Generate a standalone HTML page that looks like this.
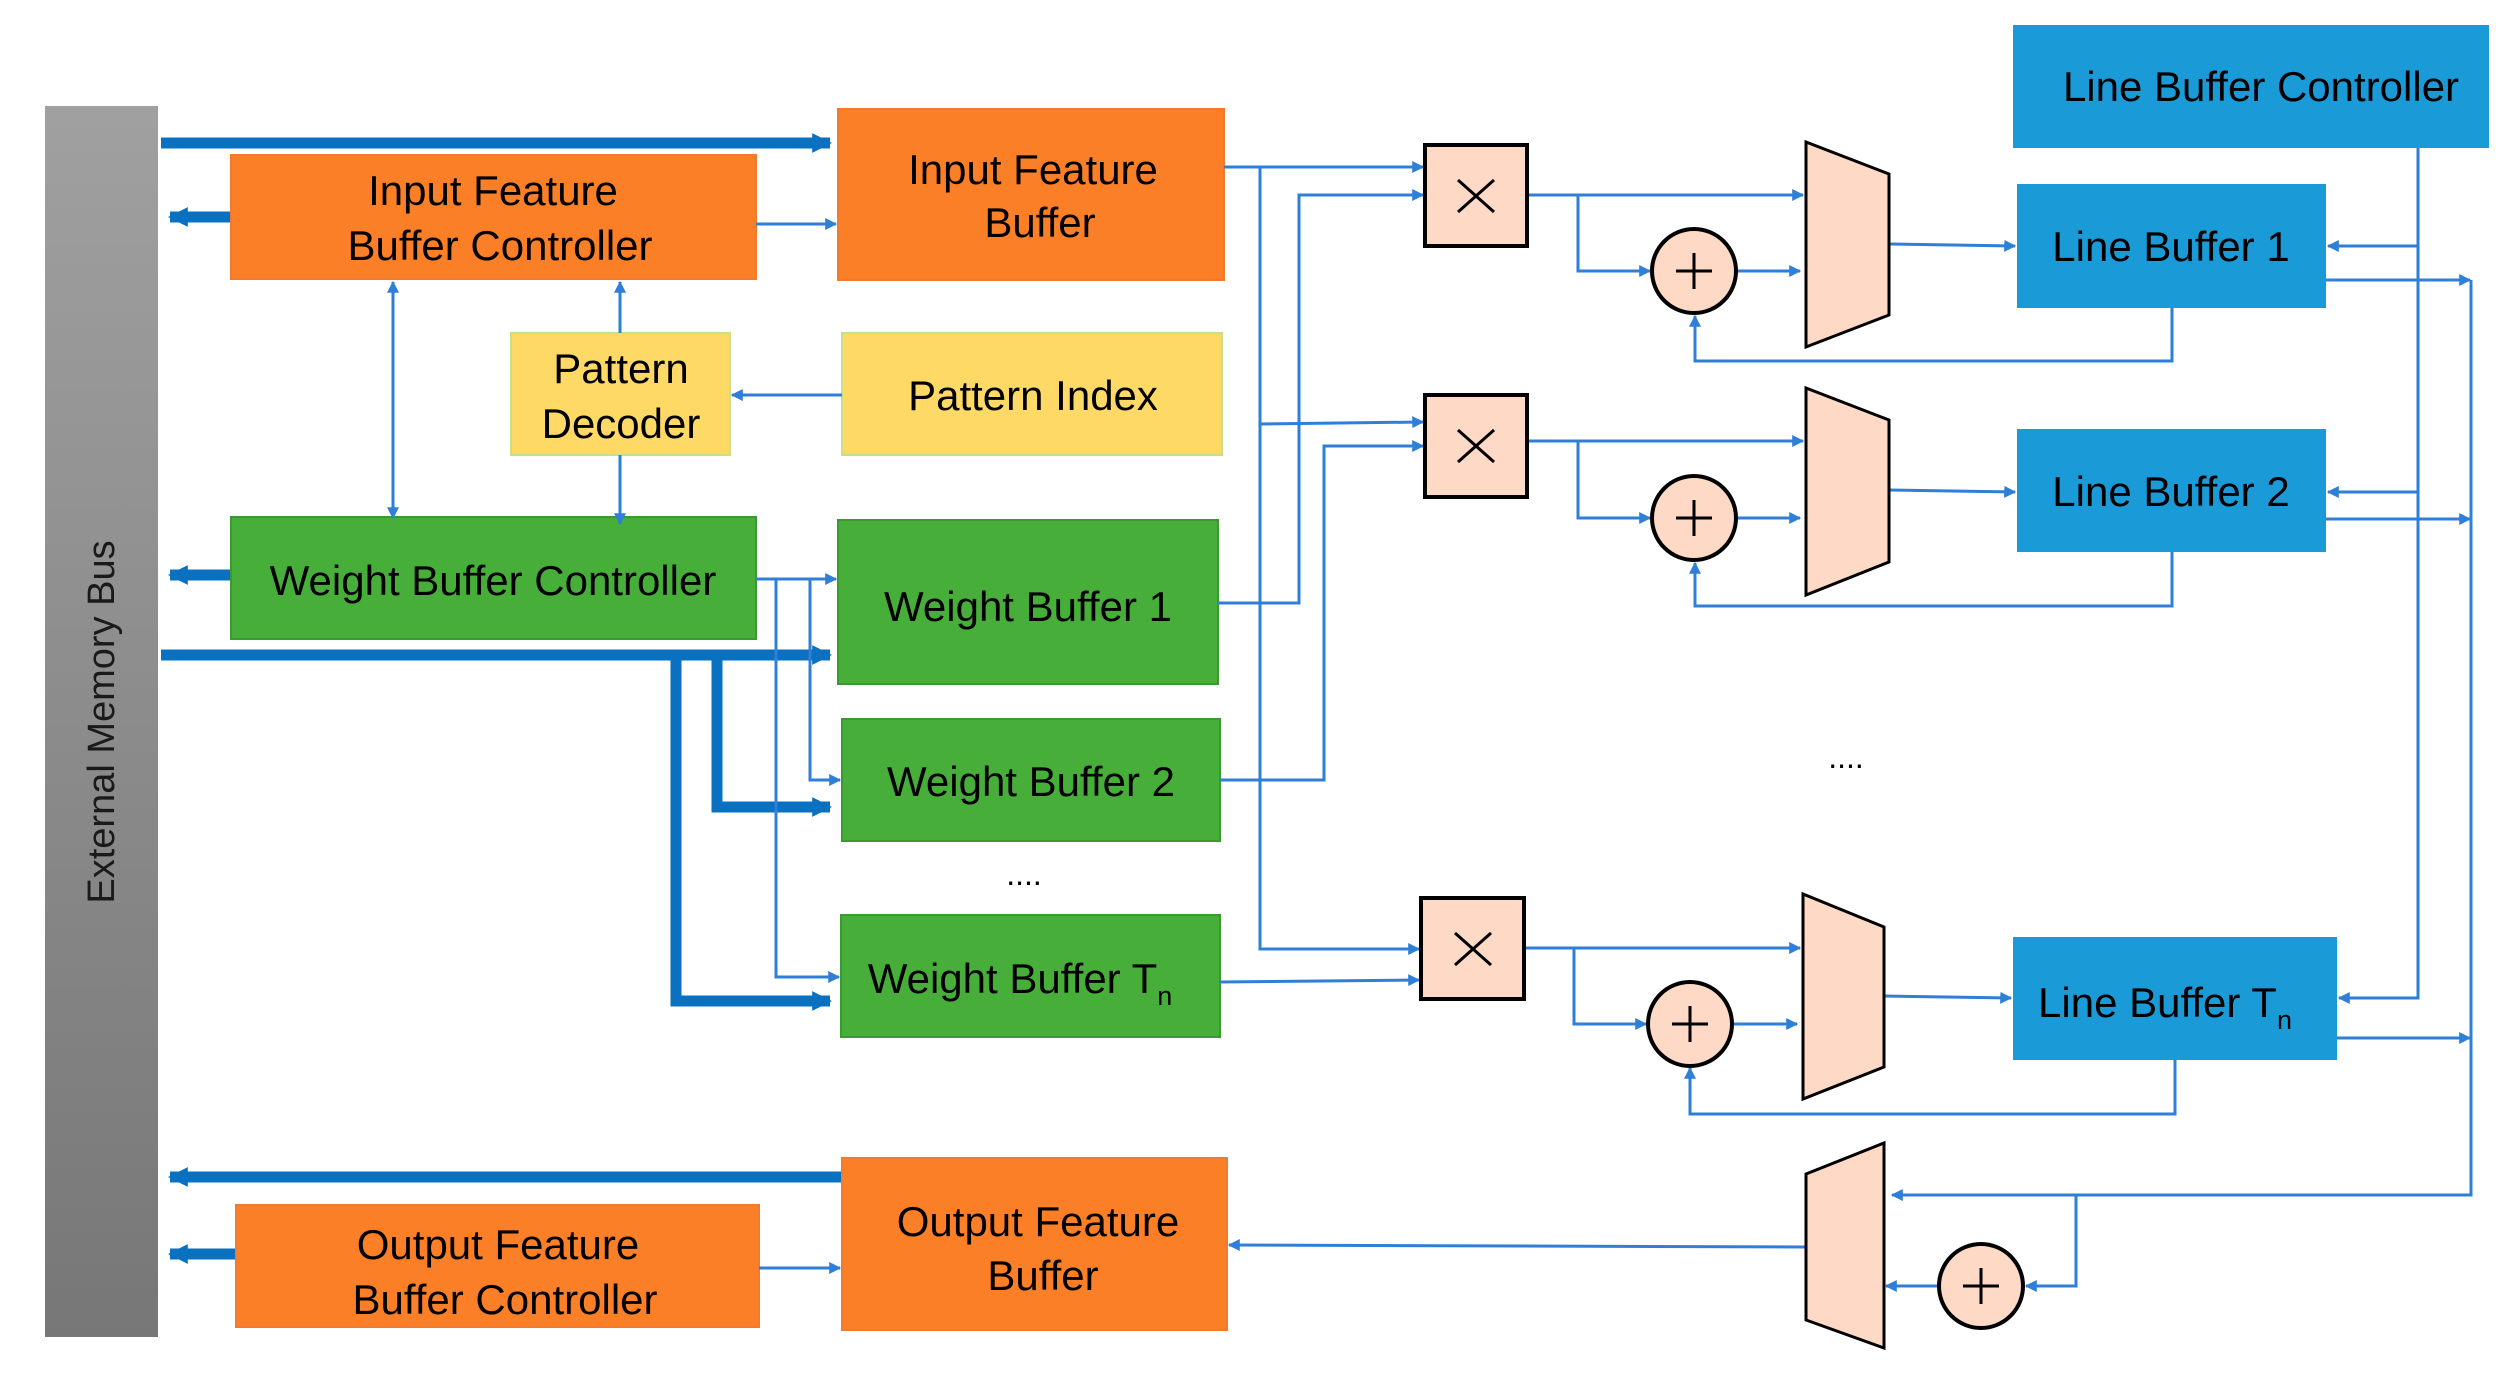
<!DOCTYPE html>
<html><head><meta charset="utf-8"><style>
html,body{margin:0;padding:0;background:#fff}
svg{display:block}
text{font-family:"Liberation Sans",Arial,sans-serif;fill:#000}
</style></head><body>
<svg width="2514" height="1377" viewBox="0 0 2514 1377" xmlns="http://www.w3.org/2000/svg">
<defs>
<linearGradient id="bus" x1="0" y1="0" x2="0" y2="1"><stop offset="0" stop-color="#a0a0a0"/><stop offset="1" stop-color="#777"/></linearGradient>
<marker id="a" viewBox="0 0 10 10" refX="9" refY="5" markerWidth="4" markerHeight="4" orient="auto-start-reverse" markerUnits="strokeWidth"><path d="M0,0L10,5L0,10z" fill="#2f7fd8"/></marker>
<marker id="t" viewBox="0 0 10 10" refX="9" refY="5" markerWidth="1.8" markerHeight="2.4" orient="auto" markerUnits="strokeWidth"><path d="M0,0L10,5L0,10z" fill="#0a70c0"/></marker>
</defs>
<rect x="45" y="106" width="113" height="1231" fill="url(#bus)"/>
<text transform="translate(114,722) rotate(-90)" font-size="38" text-anchor="middle" style="fill:#1a1a1a">External Memory Bus</text>

<g stroke="#0a70c0" stroke-width="11" fill="none">
<path d="M161,143H830" marker-end="url(#t)"/>
<path d="M231,217H170" marker-end="url(#t)"/>
<path d="M231,575H170" marker-end="url(#t)"/>
<path d="M161,655H830" marker-end="url(#t)"/>
<path d="M717,655V807H830" marker-end="url(#t)"/>
<path d="M676,655V1001H830" marker-end="url(#t)"/>
<path d="M842,1177H170" marker-end="url(#t)"/>
<path d="M236,1254H170" marker-end="url(#t)"/>
</g>

<g stroke-width="2">
<rect x="231" y="155" width="525" height="124" fill="#fb7f26" stroke="#f07a30"/>
<rect x="838" y="109" width="386" height="171" fill="#fb7f26" stroke="#f07a30"/>
<rect x="511" y="333" width="219" height="122" fill="#ffd966" stroke="#c8e08a"/>
<rect x="842" y="333" width="380" height="122" fill="#ffd966" stroke="#c8e08a"/>
<rect x="231" y="517" width="525" height="122" fill="#47ae3a" stroke="#3a9a30"/>
<rect x="838" y="520" width="380" height="164" fill="#47ae3a" stroke="#3a9a30"/>
<rect x="842" y="719" width="378" height="122" fill="#47ae3a" stroke="#3a9a30"/>
<rect x="841" y="915" width="379" height="122" fill="#47ae3a" stroke="#3a9a30"/>
<rect x="236" y="1205" width="523" height="122" fill="#fb7f26" stroke="#f07a30"/>
<rect x="842" y="1158" width="385" height="172" fill="#fb7f26" stroke="#f07a30"/>
<rect x="2013" y="25" width="476" height="123" fill="#1a9ad6"/>
<rect x="2017" y="184" width="309" height="124" fill="#1a9ad6"/>
<rect x="2017" y="429" width="309" height="123" fill="#1a9ad6"/>
<rect x="2013" y="937" width="324" height="123" fill="#1a9ad6"/>
</g>

<g font-size="42" text-anchor="middle">
<text x="493" y="205">Input Feature</text><text x="500" y="260">Buffer Controller</text>
<text x="1033" y="184">Input Feature</text><text x="1040" y="237">Buffer</text>
<text x="621" y="383">Pattern</text><text x="621" y="438">Decoder</text>
<text x="1033" y="410">Pattern Index</text>
<text x="493" y="595">Weight Buffer Controller</text>
<text x="1028" y="621">Weight Buffer 1</text>
<text x="1031" y="796">Weight Buffer 2</text>
<text x="1020" y="993">Weight Buffer T<tspan font-size="27" dy="12">n</tspan></text>
<text x="498" y="1259">Output Feature</text><text x="505" y="1314">Buffer Controller</text>
<text x="1038" y="1236">Output Feature</text><text x="1043" y="1290">Buffer</text>
<text x="2261" y="101">Line Buffer Controller</text>
<text x="2171" y="261">Line Buffer 1</text>
<text x="2171" y="506">Line Buffer 2</text>
<text x="2165" y="1017">Line Buffer T<tspan font-size="27" dy="12">n</tspan></text>
<text x="1024" y="885" font-size="32">....</text>
<text x="1846" y="768" font-size="32">....</text>
</g>

<g stroke="#2f7fd8" stroke-width="3" fill="none">
<path d="M756,224H836" marker-end="url(#a)"/>
<path d="M842,395H732" marker-end="url(#a)"/>
<path d="M620,333V282" marker-end="url(#a)"/>
<path d="M620,455V524" marker-end="url(#a)"/>
<path d="M393,282V518" marker-start="url(#a)" marker-end="url(#a)"/>
<path d="M756,579H836" marker-end="url(#a)"/>
<path d="M776,579V977H839" marker-end="url(#a)"/>
<path d="M810,579V780H840" marker-end="url(#a)"/>
<path d="M759,1268H840" marker-end="url(#a)"/>
<path d="M1224,167H1423" marker-end="url(#a)"/>
<path d="M1260,167V949H1419" marker-end="url(#a)"/>
<path d="M1260,424L1423,422" marker-end="url(#a)"/>
<path d="M1218,603H1299V195H1423" marker-end="url(#a)"/>
<path d="M1220,780H1324V446H1423" marker-end="url(#a)"/>
<path d="M1220,982L1419,980" marker-end="url(#a)"/>
<path d="M1527,195H1803" marker-end="url(#a)"/>
<path d="M1578,195V271H1650" marker-end="url(#a)"/>
<path d="M1736,271H1800" marker-end="url(#a)"/>
<path d="M1889,244L2015,246" marker-end="url(#a)"/>
<path d="M2172,308V361H1695V316" marker-end="url(#a)"/>
<path d="M1527,441H1803" marker-end="url(#a)"/>
<path d="M1578,441V518H1650" marker-end="url(#a)"/>
<path d="M1736,518H1800" marker-end="url(#a)"/>
<path d="M1889,490L2015,492" marker-end="url(#a)"/>
<path d="M2172,552V606H1695V563" marker-end="url(#a)"/>
<path d="M1524,948H1800" marker-end="url(#a)"/>
<path d="M1574,948V1024H1646" marker-end="url(#a)"/>
<path d="M1733,1024H1797" marker-end="url(#a)"/>
<path d="M1884,996L2011,998" marker-end="url(#a)"/>
<path d="M2175,1060V1114H1690V1068" marker-end="url(#a)"/>
<path d="M2418,148V998H2339" marker-end="url(#a)"/>
<path d="M2418,246H2328" marker-end="url(#a)"/>
<path d="M2418,492H2328" marker-end="url(#a)"/>
<path d="M2326,280H2470" marker-end="url(#a)"/>
<path d="M2326,519H2470" marker-end="url(#a)"/>
<path d="M2337,1038H2470" marker-end="url(#a)"/>
<path d="M2471,280V1195H1892" marker-end="url(#a)"/>
<path d="M2076,1195V1286H2026" marker-end="url(#a)"/>
<path d="M1938,1286H1886" marker-end="url(#a)"/>
<path d="M1806,1247L1229,1245" marker-end="url(#a)"/>
</g>

<g fill="#fdd9c6" stroke="#000" stroke-width="4">
<rect x="1425" y="145" width="102" height="101"/>
<rect x="1425" y="395" width="102" height="102"/>
<rect x="1421" y="898" width="103" height="101"/>
<circle cx="1694" cy="271" r="42"/>
<circle cx="1694" cy="518" r="42"/>
<circle cx="1690" cy="1024" r="42"/>
<circle cx="1981" cy="1286" r="42"/>
<polygon points="1806,142 1889,174 1889,315 1806,347" stroke-width="3"/>
<polygon points="1806,388 1889,420 1889,562 1806,595" stroke-width="3"/>
<polygon points="1803,894 1884,927 1884,1067 1803,1099" stroke-width="3"/>
<polygon points="1806,1174 1884,1143 1884,1348 1806,1320" stroke-width="3"/>
</g>
<g stroke="#000" stroke-width="3" fill="none">
<path d="M1458,180L1494,212M1494,180L1458,212"/>
<path d="M1458,430L1494,462M1494,430L1458,462"/>
<path d="M1455,933L1491,965M1491,933L1455,965"/>
<path d="M1694,253V289M1676,271H1712"/>
<path d="M1694,500V536M1676,518H1712"/>
<path d="M1690,1006V1042M1672,1024H1708"/>
<path d="M1981,1268V1304M1963,1286H1999"/>
</g>
</svg>
</body></html>
